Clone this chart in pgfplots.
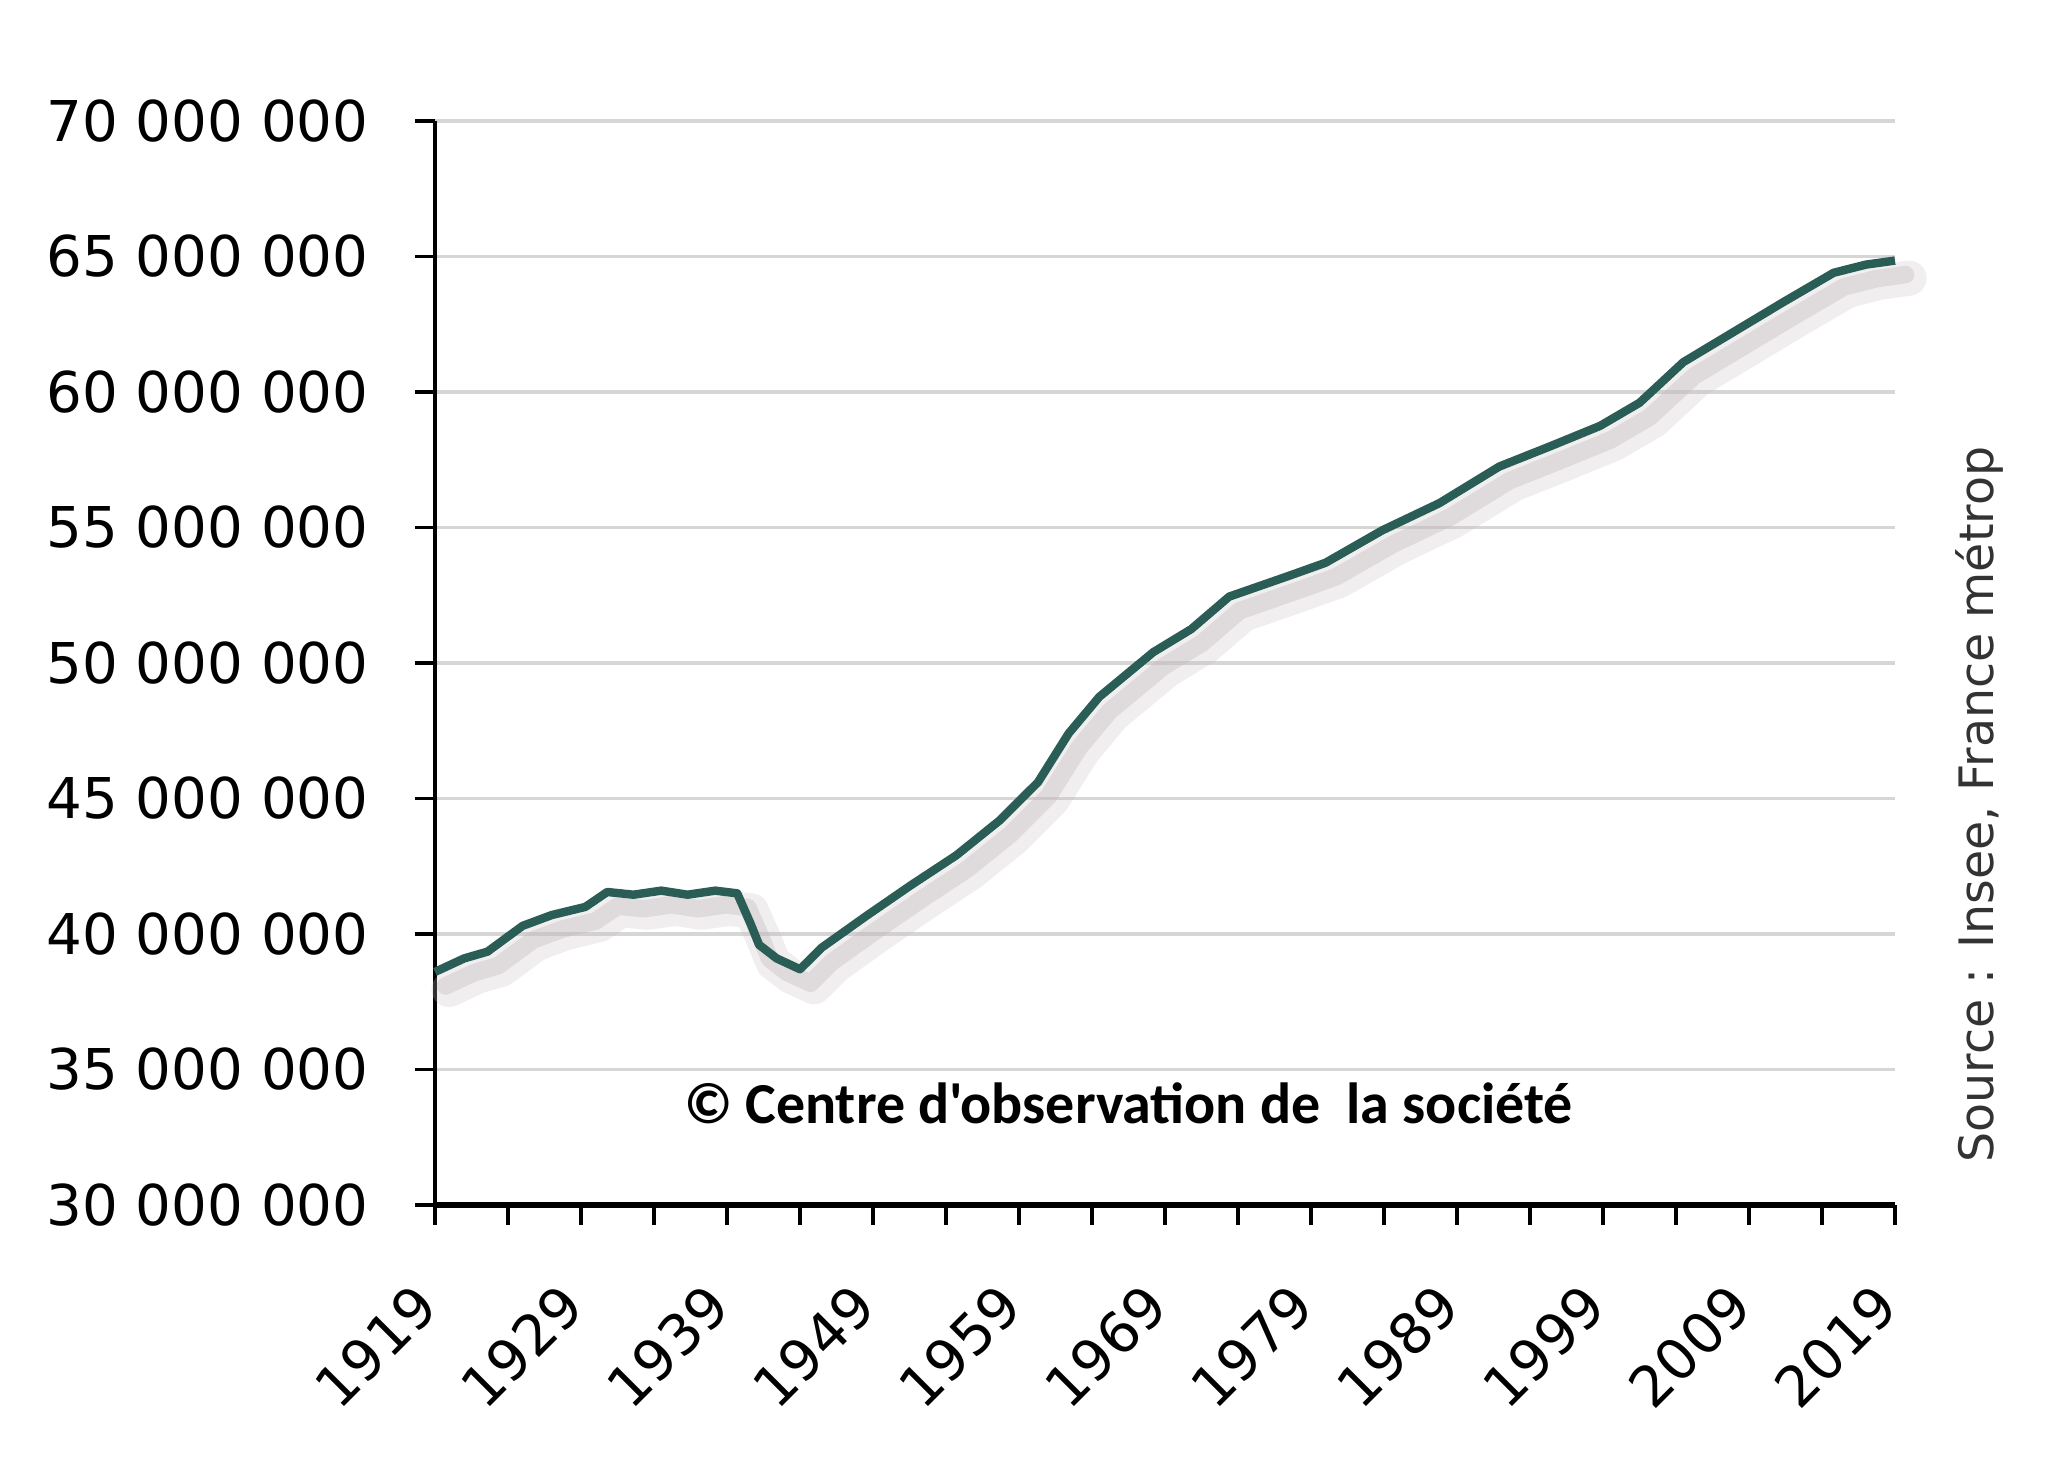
\documentclass[border=0pt]{standalone}
\usepackage{pgfplots}
\pgfplotsset{compat=1.18}
\usepackage{fontspec}
\setmainfont{DejaVu Sans}
\newfontfamily\carlito{Carlito}
\definecolor{linec}{HTML}{2B5D57}
\definecolor{gridc}{HTML}{D6D6D6}
\definecolor{shadowc}{HTML}{C4BCBF}
\begin{document}
\begin{tikzpicture}
\path[use as bounding box] (-4.35cm,-2.58cm) rectangle (16.13cm,12.05cm);
\begin{axis}[
  at={(0,0)}, anchor=south west,
  scale only axis, width=14.6cm, height=10.84cm,
  xmin=1919, xmax=2019, ymin=30, ymax=70,
  axis x line*=bottom, axis y line*=left,
  x axis line style={line width=1.5pt},
  y axis line style={line width=1.1pt},
  xtick={1919,1929,1939,1949,1959,1969,1979,1989,1999,2009,2019},
  minor xtick={1924,1934,1944,1954,1964,1974,1984,1994,2004,2014},
  xticklabels={1919,1929,1939,1949,1959,1969,1979,1989,1999,2009,2019},
  ytick={30,35,40,45,50,55,60,65,70},
  yticklabels={30 000 000,35 000 000,40 000 000,45 000 000,50 000 000,55 000 000,60 000 000,65 000 000,70 000 000},
  tick align=outside,
  major tick length=0.2cm, minor tick length=0.2cm,
  every tick/.style={black, line width=0.9pt},
  ymajorgrids, grid style={gridc, line width=1pt},
  tick label style={font=\fontsize{16}{19}\selectfont},
  xticklabel style={rotate=45, anchor=east},
  xticklabel shift=0.62cm,
  yticklabel style={xshift=-0.34cm},
  clip=false,
]
\pgfplotstableread{
year pop
1919 38.6
1921 39.1
1922.6 39.35
1925 40.3
1927 40.7
1929.3 41.0
1930.8 41.55
1932.6 41.45
1934.5 41.6
1936.3 41.45
1938.2 41.6
1939.7 41.5
1940.6 40.4
1941.2 39.6
1942.4 39.1
1944 38.7
1945.5 39.5
1948.5 40.65
1951.6 41.8
1954.7 42.9
1957.7 44.2
1960.3 45.6
1962.4 47.4
1964.5 48.75
1968.2 50.4
1970.8 51.25
1973.4 52.45
1977.4 53.2
1980 53.7
1983.9 54.9
1987.8 55.9
1991.9 57.25
1995.4 58.0
1998.8 58.75
2001.5 59.6
2004.5 61.1
2007.9 62.2
2011.3 63.3
2014.8 64.4
2017 64.7
2019 64.85
}\datatable
\addplot[shadowc, opacity=0.25, line width=10pt, line join=round, line cap=round, transform canvas={xshift=4pt,yshift=-5pt}] table[x=year,y=pop] {\datatable};
\addplot[shadowc, opacity=0.4, line width=5pt, line join=round, line cap=round, transform canvas={xshift=3pt,yshift=-4pt}] table[x=year,y=pop] {\datatable};
\addplot[linec, line width=2.4pt, line join=round] table[x=year,y=pop] {\datatable};
\node[font=\carlito\bfseries\fontsize{16.5}{19}\selectfont] at (axis cs:1966.5,33.75) {© Centre d'observation de\ \ la société};
\end{axis}
\node[rotate=90, anchor=west, font=\fontsize{13.5}{16}\selectfont, text=black!80] at (15.44cm,0.3cm) {Source : Insee, France métrop};
\end{tikzpicture}
\end{document}
